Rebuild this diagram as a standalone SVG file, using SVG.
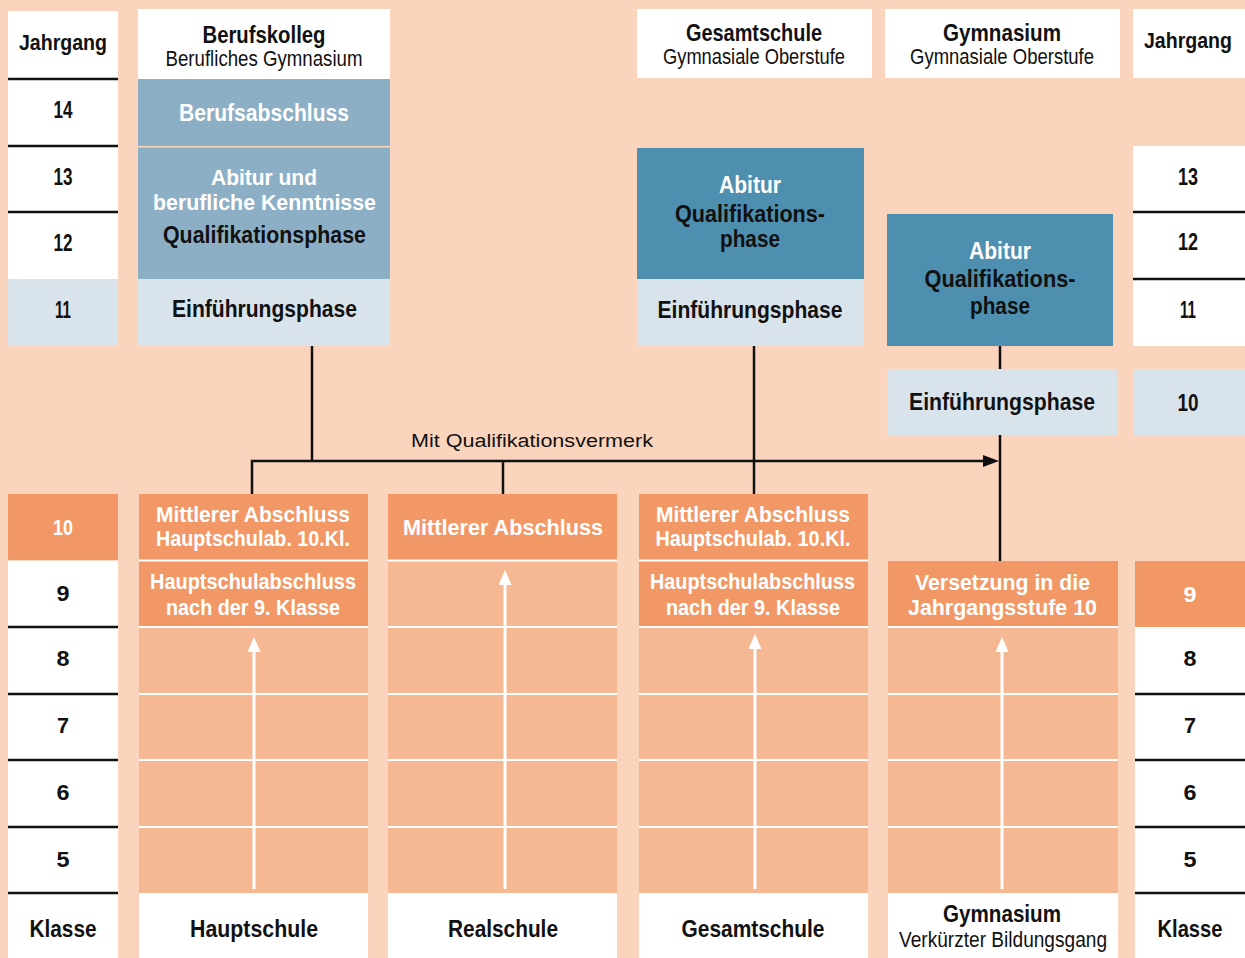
<svg xmlns="http://www.w3.org/2000/svg" width="1245" height="958" viewBox="0 0 1245 958">
<style>
.b{font-family:"Liberation Sans",Arial,sans-serif;font-weight:bold;text-anchor:middle;font-size:24px;fill:#111}
.r{font-family:"Liberation Sans",Arial,sans-serif;font-weight:normal;text-anchor:middle;font-size:22px;fill:#111}
.s{font-size:22px}
.m{font-size:22px}
.w{fill:#fff}
.wh{fill:#fff}
.dk{fill:#F29866}
.lo{fill:#F6B892}
.bm{fill:#8CAFC6}
.tl{fill:#4E8EAE}
.lb{fill:#D9E3EC}
.bl{stroke:#111;stroke-width:2.5}
.wl{stroke:#fff;stroke-width:2}
.con{stroke:#111;stroke-width:2.5;fill:none}
.up{stroke:#fff;stroke-width:3;fill:none}
</style>
<defs>
<marker id="ah" markerUnits="userSpaceOnUse" markerWidth="16" markerHeight="12" refX="8" refY="6" orient="auto"><path d="M0,0 L16,6 L0,12 Z" fill="#111"/></marker>
<marker id="wa" markerUnits="userSpaceOnUse" markerWidth="15" markerHeight="13" refX="7" refY="6.5" orient="auto"><path d="M0,0 L15,6.5 L0,13 Z" fill="#fff"/></marker>
</defs>
<rect width="1245" height="958" fill="#FAD4BD"/>

<g id="jahrgang-left">
<rect x="8" y="11" width="110" height="268" class="wh"/>
<rect x="8" y="279" width="110" height="67" class="lb"/>
<line x1="8" y1="79" x2="118" y2="79" class="bl"/>
<line x1="8" y1="146" x2="118" y2="146" class="bl"/>
<line x1="8" y1="212" x2="118" y2="212" class="bl"/>
<text x="63" y="50" class="b m" textLength="88" lengthAdjust="spacingAndGlyphs">Jahrgang</text>
<text x="63" y="118" class="b" textLength="19" lengthAdjust="spacingAndGlyphs">14</text>
<text x="63" y="185" class="b" textLength="19" lengthAdjust="spacingAndGlyphs">13</text>
<text x="63" y="251" class="b" textLength="19" lengthAdjust="spacingAndGlyphs">12</text>
<text x="63" y="318" class="b" textLength="16" lengthAdjust="spacingAndGlyphs">11</text>
</g>

<g id="berufskolleg">
<rect x="138" y="9" width="252" height="70" class="wh"/>
<rect x="138" y="79" width="252" height="67" class="bm"/>
<rect x="138" y="147.5" width="252" height="131.5" class="bm"/>
<rect x="138" y="279" width="252" height="67" class="lb"/>
<text x="264" y="43" class="b" textLength="123" lengthAdjust="spacingAndGlyphs">Berufskolleg</text>
<text x="264" y="66" class="r" textLength="197" lengthAdjust="spacingAndGlyphs">Berufliches Gymnasium</text>
<text x="264" y="121" class="b w" textLength="170" lengthAdjust="spacingAndGlyphs">Berufsabschluss</text>
<text x="264" y="185" class="b m w" textLength="106" lengthAdjust="spacingAndGlyphs">Abitur und</text>
<text x="264.5" y="210" class="b m w" textLength="223" lengthAdjust="spacingAndGlyphs">berufliche Kenntnisse</text>
<text x="264.5" y="243" class="b" textLength="203" lengthAdjust="spacingAndGlyphs">Qualifikationsphase</text>
<text x="264.5" y="317" class="b" textLength="185" lengthAdjust="spacingAndGlyphs">Einführungsphase</text>
</g>

<g id="gesamtschule-oberstufe">
<rect x="637" y="9" width="235" height="69" class="wh"/>
<rect x="637" y="148" width="227" height="131" class="tl"/>
<rect x="637" y="279" width="227" height="67" class="lb"/>
<text x="754" y="41" class="b" textLength="136" lengthAdjust="spacingAndGlyphs">Gesamtschule</text>
<text x="754" y="64" class="r" textLength="182" lengthAdjust="spacingAndGlyphs">Gymnasiale Oberstufe</text>
<text x="750" y="193" class="b w" textLength="62" lengthAdjust="spacingAndGlyphs">Abitur</text>
<text x="750" y="222" class="b" textLength="150" lengthAdjust="spacingAndGlyphs">Qualifikations-</text>
<text x="750" y="247" class="b" textLength="60" lengthAdjust="spacingAndGlyphs">phase</text>
<text x="750" y="318" class="b" textLength="185" lengthAdjust="spacingAndGlyphs">Einführungsphase</text>
</g>

<g id="gymnasium-oberstufe">
<rect x="885" y="9" width="235" height="69" class="wh"/>
<rect x="887" y="214" width="226" height="132" class="tl"/>
<rect x="887" y="369" width="230" height="66" class="lb"/>
<text x="1002" y="41" class="b" textLength="118" lengthAdjust="spacingAndGlyphs">Gymnasium</text>
<text x="1002" y="64" class="r" textLength="184" lengthAdjust="spacingAndGlyphs">Gymnasiale Oberstufe</text>
<text x="1000" y="259" class="b w" textLength="62" lengthAdjust="spacingAndGlyphs">Abitur</text>
<text x="1000" y="287" class="b" textLength="151" lengthAdjust="spacingAndGlyphs">Qualifikations-</text>
<text x="1000" y="314" class="b" textLength="60" lengthAdjust="spacingAndGlyphs">phase</text>
<text x="1002" y="410" class="b" textLength="186" lengthAdjust="spacingAndGlyphs">Einführungsphase</text>
</g>

<g id="jahrgang-right">
<rect x="1133" y="9" width="112" height="69" class="wh"/>
<rect x="1133" y="146" width="112" height="200" class="wh"/>
<rect x="1133" y="369" width="112" height="66" class="lb"/>
<line x1="1133" y1="212" x2="1245" y2="212" class="bl"/>
<line x1="1133" y1="279" x2="1245" y2="279" class="bl"/>
<text x="1188" y="48" class="b m" textLength="88" lengthAdjust="spacingAndGlyphs">Jahrgang</text>
<text x="1188" y="185" class="b" textLength="20" lengthAdjust="spacingAndGlyphs">13</text>
<text x="1188" y="250" class="b" textLength="20" lengthAdjust="spacingAndGlyphs">12</text>
<text x="1188" y="318" class="b" textLength="16" lengthAdjust="spacingAndGlyphs">11</text>
<text x="1188" y="411" class="b" textLength="21" lengthAdjust="spacingAndGlyphs">10</text>
</g>

<g id="klasse-left">
<rect x="8" y="494" width="110" height="66.5" class="dk"/>
<rect x="8" y="560.5" width="110" height="397.5" class="wh"/>
<line x1="8" y1="627" x2="118" y2="627" class="bl"/>
<line x1="8" y1="694" x2="118" y2="694" class="bl"/>
<line x1="8" y1="760" x2="118" y2="760" class="bl"/>
<line x1="8" y1="827" x2="118" y2="827" class="bl"/>
<line x1="8" y1="893" x2="118" y2="893" class="bl"/>
<text x="63" y="535" class="b s w" textLength="20" lengthAdjust="spacingAndGlyphs">10</text>
<text x="63" y="601" class="b s" textLength="13" lengthAdjust="spacingAndGlyphs">9</text>
<text x="63" y="666" class="b s" textLength="13" lengthAdjust="spacingAndGlyphs">8</text>
<text x="63" y="733" class="b s" textLength="12" lengthAdjust="spacingAndGlyphs">7</text>
<text x="63" y="800" class="b s" textLength="13" lengthAdjust="spacingAndGlyphs">6</text>
<text x="63" y="867" class="b s" textLength="13" lengthAdjust="spacingAndGlyphs">5</text>
<text x="63" y="937" class="b" textLength="67" lengthAdjust="spacingAndGlyphs">Klasse</text>
</g>

<g id="hauptschule">
<rect x="139" y="494" width="229" height="399" class="lo"/>
<rect x="139" y="494" width="229" height="133" class="dk"/>
<line x1="139" y1="560.5" x2="368" y2="560.5" class="wl"/>
<line x1="139" y1="627" x2="368" y2="627" class="wl"/>
<line x1="139" y1="694" x2="368" y2="694" class="wl"/>
<line x1="139" y1="760" x2="368" y2="760" class="wl"/>
<line x1="139" y1="827" x2="368" y2="827" class="wl"/>
<line x1="254" y1="889" x2="254" y2="645" class="up" marker-end="url(#wa)"/>
<rect x="139" y="893" width="229" height="65" class="wh"/>
<text x="253" y="522" class="b s w" textLength="194" lengthAdjust="spacingAndGlyphs">Mittlerer Abschluss</text>
<text x="253" y="546" class="b s w" textLength="194" lengthAdjust="spacingAndGlyphs">Hauptschulab. 10.Kl.</text>
<text x="253" y="589" class="b s w" textLength="206" lengthAdjust="spacingAndGlyphs">Hauptschulabschluss</text>
<text x="253" y="615" class="b s w" textLength="174" lengthAdjust="spacingAndGlyphs">nach der 9. Klasse</text>
<text x="254" y="937" class="b" textLength="128" lengthAdjust="spacingAndGlyphs">Hauptschule</text>
</g>

<g id="realschule">
<rect x="388" y="494" width="229" height="399" class="lo"/>
<rect x="388" y="494" width="229" height="66.5" class="dk"/>
<line x1="388" y1="560.5" x2="617" y2="560.5" class="wl"/>
<line x1="388" y1="627" x2="617" y2="627" class="wl"/>
<line x1="388" y1="694" x2="617" y2="694" class="wl"/>
<line x1="388" y1="760" x2="617" y2="760" class="wl"/>
<line x1="388" y1="827" x2="617" y2="827" class="wl"/>
<line x1="505" y1="889" x2="505" y2="578" class="up" marker-end="url(#wa)"/>
<rect x="388" y="893" width="229" height="65" class="wh"/>
<text x="503" y="535" class="b s w" textLength="200" lengthAdjust="spacingAndGlyphs">Mittlerer Abschluss</text>
<text x="503" y="937" class="b" textLength="110" lengthAdjust="spacingAndGlyphs">Realschule</text>
</g>

<g id="gesamtschule">
<rect x="639" y="494" width="229" height="399" class="lo"/>
<rect x="639" y="494" width="229" height="133" class="dk"/>
<line x1="639" y1="560.5" x2="868" y2="560.5" class="wl"/>
<line x1="639" y1="627" x2="868" y2="627" class="wl"/>
<line x1="639" y1="694" x2="868" y2="694" class="wl"/>
<line x1="639" y1="760" x2="868" y2="760" class="wl"/>
<line x1="639" y1="827" x2="868" y2="827" class="wl"/>
<line x1="755" y1="889" x2="755" y2="642" class="up" marker-end="url(#wa)"/>
<rect x="639" y="893" width="229" height="65" class="wh"/>
<text x="753" y="522" class="b s w" textLength="194" lengthAdjust="spacingAndGlyphs">Mittlerer Abschluss</text>
<text x="753" y="546" class="b s w" textLength="195" lengthAdjust="spacingAndGlyphs">Hauptschulab. 10.Kl.</text>
<text x="752.5" y="589" class="b s w" textLength="205" lengthAdjust="spacingAndGlyphs">Hauptschulabschluss</text>
<text x="753" y="615" class="b s w" textLength="174" lengthAdjust="spacingAndGlyphs">nach der 9. Klasse</text>
<text x="753" y="937" class="b" textLength="143" lengthAdjust="spacingAndGlyphs">Gesamtschule</text>
</g>

<g id="gymnasium">
<rect x="888" y="561" width="230" height="332" class="lo"/>
<rect x="888" y="561" width="230" height="66" class="dk"/>
<line x1="888" y1="627" x2="1118" y2="627" class="wl"/>
<line x1="888" y1="694" x2="1118" y2="694" class="wl"/>
<line x1="888" y1="760" x2="1118" y2="760" class="wl"/>
<line x1="888" y1="827" x2="1118" y2="827" class="wl"/>
<line x1="1002" y1="889" x2="1002" y2="645" class="up" marker-end="url(#wa)"/>
<rect x="888" y="893" width="230" height="65" class="wh"/>
<text x="1002.5" y="590" class="b s w" textLength="175" lengthAdjust="spacingAndGlyphs">Versetzung in die</text>
<text x="1002.5" y="615" class="b s w" textLength="189" lengthAdjust="spacingAndGlyphs">Jahrgangsstufe 10</text>
<text x="1002" y="922" class="b" textLength="118" lengthAdjust="spacingAndGlyphs">Gymnasium</text>
<text x="1003" y="947" class="r" textLength="208" lengthAdjust="spacingAndGlyphs">Verkürzter Bildungsgang</text>
</g>

<g id="klasse-right">
<rect x="1135" y="561" width="110" height="66" class="dk"/>
<rect x="1135" y="627" width="110" height="331" class="wh"/>
<line x1="1135" y1="694" x2="1245" y2="694" class="bl"/>
<line x1="1135" y1="760" x2="1245" y2="760" class="bl"/>
<line x1="1135" y1="827" x2="1245" y2="827" class="bl"/>
<line x1="1135" y1="893" x2="1245" y2="893" class="bl"/>
<text x="1190" y="602" class="b s w" textLength="13" lengthAdjust="spacingAndGlyphs">9</text>
<text x="1190" y="666" class="b s" textLength="13" lengthAdjust="spacingAndGlyphs">8</text>
<text x="1190" y="733" class="b s" textLength="12" lengthAdjust="spacingAndGlyphs">7</text>
<text x="1190" y="800" class="b s" textLength="13" lengthAdjust="spacingAndGlyphs">6</text>
<text x="1190" y="867" class="b s" textLength="13" lengthAdjust="spacingAndGlyphs">5</text>
<text x="1190" y="937" class="b" textLength="65" lengthAdjust="spacingAndGlyphs">Klasse</text>
</g>

<g id="connectors">
<line x1="312" y1="346" x2="312" y2="461" class="con"/>
<line x1="754" y1="346" x2="754" y2="494" class="con"/>
<line x1="503" y1="461" x2="503" y2="494" class="con"/>
<polyline points="252,494 252,461 991,461" class="con" marker-end="url(#ah)"/>
<line x1="1000" y1="346" x2="1000" y2="369" class="con"/>
<line x1="1000" y1="435" x2="1000" y2="561" class="con"/>
<text x="532" y="447" class="r" style="font-size:18px" textLength="242" lengthAdjust="spacingAndGlyphs">Mit Qualifikationsvermerk</text>
</g>
</svg>
